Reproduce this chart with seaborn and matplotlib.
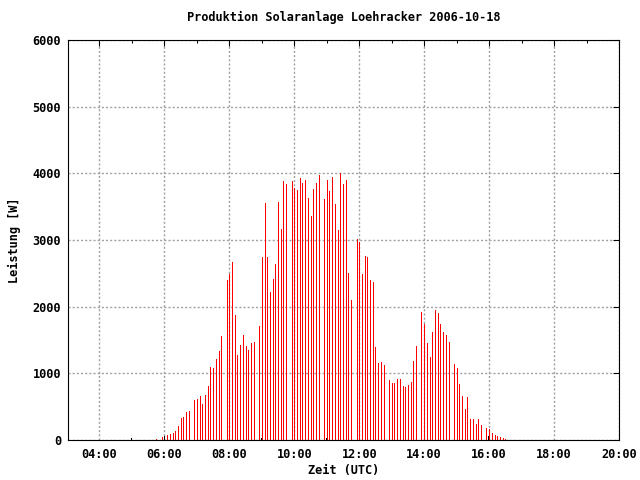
import matplotlib
matplotlib.use("Agg")
import matplotlib.pyplot as plt
import seaborn as sns
import pandas as pd

# Leistung der Solaranlage, 5-Minuten-Werte (red impulses)
red_times = [
    "05:45", "05:55", "06:05", "06:10", "06:15", "06:20", "06:25", "06:30", "06:35", "06:40",
    "06:45", "06:55", "07:00", "07:05", "07:10", "07:15", "07:20", "07:25", "07:30", "07:35",
    "07:40", "07:45", "07:55", "08:00", "08:05", "08:10", "08:15", "08:20", "08:25", "08:30",
    "08:35", "08:40", "08:45", "08:55", "09:00", "09:05", "09:10", "09:15", "09:20", "09:25",
    "09:30", "09:35", "09:40", "09:45", "09:55", "10:00", "10:05", "10:10", "10:15", "10:20",
    "10:25", "10:30", "10:35", "10:40", "10:45", "10:55", "11:00", "11:05", "11:10", "11:15",
    "11:20", "11:25", "11:30", "11:35", "11:40", "11:45", "11:55", "12:00", "12:05", "12:10",
    "12:15", "12:20", "12:25", "12:30", "12:35", "12:40", "12:45", "12:55", "13:00", "13:05",
    "13:10", "13:15", "13:20", "13:25", "13:30", "13:35", "13:40", "13:45", "13:55", "14:00",
    "14:05", "14:10", "14:15", "14:20", "14:25", "14:30", "14:35", "14:40", "14:45", "14:55",
    "15:00", "15:05", "15:10", "15:15", "15:20", "15:25", "15:30", "15:35", "15:40", "15:45",
    "15:55", "16:00", "16:05", "16:10", "16:15", "16:20", "16:25", "16:30",
]
red_watts = [
    20, 40, 75, 95, 109, 139, 214, 333, 348, 423,
    438, 602, 617, 662, 542, 677, 811, 1095, 1080, 1214,
    1333, 1557, 2393, 2497, 2677, 1871, 1274, 1423, 1572, 1408,
    1348, 1453, 1468, 1706, 2751, 3557, 2751, 2214, 2408, 2647,
    3572, 3169, 3885, 3841, 3885, 3781, 3751, 3930, 3856, 3900,
    3632, 3363, 3766, 3856, 3975, 3617, 3900, 3736, 3945, 3542,
    3154, 4005, 3841, 3900, 2512, 2094, 3020, 2975, 2497, 2766,
    2751, 2393, 2363, 1393, 1154, 1169, 1124, 900, 856, 856,
    915, 915, 811, 796, 826, 871, 1184, 1408, 1915, 1746,
    1453, 1244, 1617, 1945, 1900, 1736, 1617, 1572, 1468, 1139,
    1080, 841, 662, 468, 647, 318, 318, 244, 318, 229,
    184, 164, 109, 80, 65, 50, 35, 20,
]

# zweite Reihe (black impulses)
black_times = ["05:00", "06:00", "09:00", "11:00", "16:00"]
black_watts = [25, 65, 35, 35, 65]

x_ticks = ["04:00", "06:00", "08:00", "10:00", "12:00", "14:00", "16:00", "18:00", "20:00"]
y_ticks = [0, 1000, 2000, 3000, 4000, 5000, 6000]


def to_hours(s):
    h, m = s.split(":")
    return int(h) + int(m) / 60.0


red = pd.DataFrame({"t": [to_hours(s) for s in red_times], "w": red_watts})
black = pd.DataFrame({"t": [to_hours(s) for s in black_times], "w": black_watts})

sns.set_theme(style="white", rc={"text.color": "black", "axes.labelcolor": "black",
                                 "xtick.color": "black", "ytick.color": "black"})
plt.rcParams['font.family'] = ['DejaVu Sans Mono']
plt.rcParams['font.weight'] = 'bold'

fig = plt.figure(figsize=(6.4, 4.8), dpi=100)
ax = fig.add_axes([68 / 640, 40 / 480, (619 - 68) / 640, 400 / 480])

# impulses, ~1 px wide
ax.vlines(red["t"], 0, red["w"], colors="#ff0000", lw=0.72, antialiased=False, zorder=2)
ax.vlines(black["t"] - 0.02, 0, black["w"], colors="black", lw=0.72, antialiased=False, zorder=3)

ax.set_xlim(3.03, 20)
ax.set_ylim(0, 6000)

ax.set_xticks([to_hours(s) for s in x_ticks])
ax.set_xticklabels(x_ticks)
ax.set_xticks(range(4, 21), minor=True)
ax.set_yticks(y_ticks)
ax.set_yticklabels([str(v) for v in y_ticks])

ax.tick_params(which="both", direction="in", top=True, right=True, color="black",
               labelcolor="black", labelsize=8.6, width=0.75)
ax.tick_params(which="major", length=4)
ax.tick_params(which="minor", length=2.2)
ax.tick_params(axis="y", pad=5)
ax.tick_params(axis="x", pad=6)

ax.grid(which="major", color="#a0a0a0", linestyle=(0, (1.5, 1.5)), lw=1.0)
ax.set_axisbelow(True)
for sp in ax.spines.values():
    sp.set_color("black")
    sp.set_linewidth(0.8)

ax.set_title("Produktion Solaranlage Loehracker 2006-10-18", fontsize=8.6,
             fontweight="bold", color="black", pad=14)
ax.set_xlabel("Zeit (UTC)", fontsize=8.6, fontweight="bold", color="black", labelpad=2)
ax.set_ylabel("Leistung [W]", fontsize=8.6, fontweight="bold", color="black", labelpad=8)

fig.savefig("out.png", dpi=100)
